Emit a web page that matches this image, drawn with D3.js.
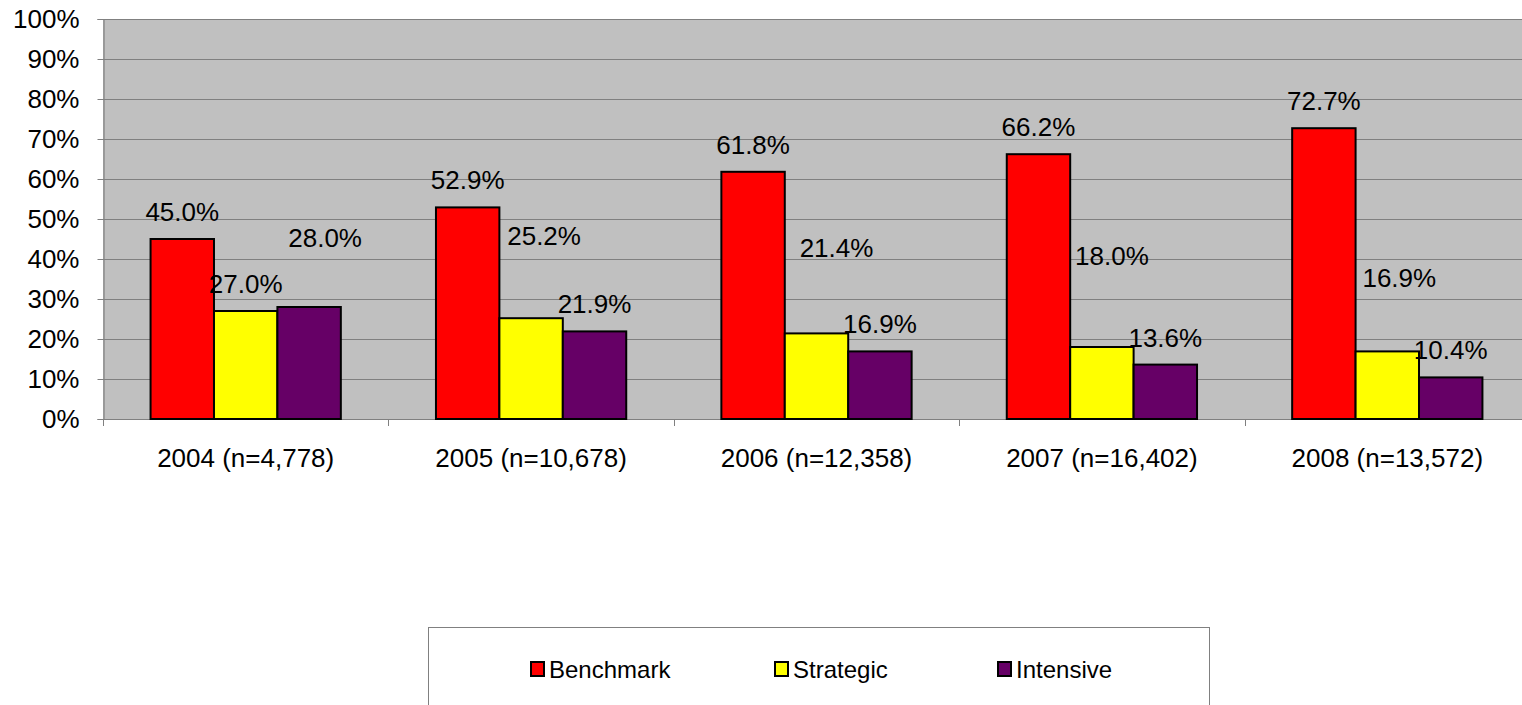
<!DOCTYPE html>
<html>
<head>
<meta charset="utf-8">
<script src="https://cdn.jsdelivr.net/npm/d3@7"></script>
<style>
  html, body { margin: 0; padding: 0; background: #ffffff; }
  svg { display: block; font-family: "Liberation Sans", Arial, sans-serif; }
</style>
</head>
<body>
<svg id="chart" width="1522" height="705"></svg>
<script>
// ---- data ----
const categories = ["2004 (n=4,778)", "2005 (n=10,678)", "2006 (n=12,358)", "2007 (n=16,402)", "2008 (n=13,572)"];
const seriesNames = ["Benchmark", "Strategic", "Intensive"];
const benchmark = [45.0, 52.9, 61.8, 66.2, 72.7];
const strategic = [27.0, 25.2, 21.4, 18.0, 16.9];
const intensive = [28.0, 21.9, 16.9, 13.6, 10.4];
const yTicks = [0, 10, 20, 30, 40, 50, 60, 70, 80, 90, 100];
const seriesColors = ["#FF0000", "#FFFF00", "#660066"];

// ---- layout ----
const W = 1522, H = 705;
const plot = { left: 103, top: 19, right: 1530, bottom: 419 };
const seriesValues = [benchmark, strategic, intensive];
// manual data-label nudges (px) matching the reference's hand-placed labels
const labelNudge = [
  [[0,0],[0,0],[0,0],[0,0],[0,0]],
  [[0,0],[13,-55],[20,-58],[10,-64],[12,-46]],
  [[16,-42],[0,0],[0,0],[0,0],[0,0]]
];

const svg = d3.select("#chart");

const x0 = d3.scaleBand().domain(categories).range([plot.left, plot.right]).paddingInner(0).paddingOuter(0);
// gap width 150%: band = 3w + 1.5w
const bw = x0.bandwidth() / 4.5;
const x1 = d3.scaleBand().domain(seriesNames).range([0.75 * bw, 0.75 * bw + 3 * bw]).padding(0);
const y = d3.scaleLinear().domain([0, 100]).range([plot.bottom, plot.top]);

// plot background
svg.append("rect")
  .attr("x", plot.left).attr("y", plot.top)
  .attr("width", plot.right - plot.left).attr("height", plot.bottom - plot.top)
  .attr("fill", "#C0C0C0");

// gridlines
svg.append("g").selectAll("line")
  .data(yTicks.filter(d => d > 0))
  .join("line")
  .attr("x1", plot.left).attr("x2", plot.right)
  .attr("y1", d => Math.round(y(d)) + 0.5).attr("y2", d => Math.round(y(d)) + 0.5)
  .attr("stroke", "#808080").attr("stroke-width", 1.2);

// y axis
const yAxis = d3.axisLeft(y).tickValues(yTicks).tickFormat(d => d + "%").tickSize(6).tickPadding(18);
const gy = svg.append("g").attr("transform", `translate(${plot.left + 0.5},0)`).call(yAxis);
gy.select(".domain").attr("stroke", "#808080").attr("stroke-width", 1.2);
gy.selectAll(".tick line").attr("stroke", "#808080");
gy.selectAll(".tick text").attr("font-size", 26).attr("fill", "#000")
  .attr("font-family", "'Liberation Sans', Arial, sans-serif");

// x axis (ticks at band boundaries)
svg.append("line")
  .attr("x1", plot.left).attr("x2", plot.right)
  .attr("y1", plot.bottom + 0.5).attr("y2", plot.bottom + 0.5)
  .attr("stroke", "#808080").attr("stroke-width", 1.2);
const boundaries = categories.map(c => x0(c)).concat([x0(categories[categories.length - 1]) + x0.bandwidth()]);
svg.append("g").selectAll("line")
  .data(boundaries)
  .join("line")
  .attr("x1", d => Math.round(d) + 0.5).attr("x2", d => Math.round(d) + 0.5)
  .attr("y1", plot.bottom).attr("y2", plot.bottom + 7)
  .attr("stroke", "#808080");
svg.append("g").selectAll("text")
  .data(categories)
  .join("text")
  .attr("x", d => x0(d) + x0.bandwidth() / 2)
  .attr("y", 467)
  .attr("text-anchor", "middle")
  .attr("font-size", 26)
  .attr("fill", "#000")
  .text(d => d);

// bars
const groups = svg.append("g").selectAll("g")
  .data(categories)
  .join("g")
  .attr("transform", d => `translate(${x0(d)},0)`);

groups.each(function(cat, ci) {
  const g = d3.select(this);
  seriesNames.forEach((s, si) => {
    const v = seriesValues[si][ci];
    g.append("rect")
      .attr("x", x1(s))
      .attr("y", y(v))
      .attr("width", x1.bandwidth())
      .attr("height", y(0) - y(v))
      .attr("fill", seriesColors[si])
      .attr("stroke", "#000")
      .attr("stroke-width", 2);
  });
});

// data labels
groups.each(function(cat, ci) {
  const g = d3.select(this);
  seriesNames.forEach((s, si) => {
    const v = seriesValues[si][ci];
    const n = labelNudge[si][ci];
    g.append("text")
      .attr("x", x1(s) + x1.bandwidth() / 2 + n[0])
      .attr("y", y(v) - 18 + n[1])
      .attr("text-anchor", "middle")
      .attr("font-size", 26)
      .attr("fill", "#000")
      .text(v.toFixed(1) + "%");
  });
});

// legend
const legend = svg.append("g");
legend.append("rect")
  .attr("x", 428.5).attr("y", 627.5)
  .attr("width", 781).attr("height", 100)
  .attr("fill", "#fff").attr("stroke", "#808080").attr("stroke-width", 1);
const legendX = [531, 775, 998];
seriesNames.forEach((s, i) => {
  legend.append("rect")
    .attr("x", legendX[i]).attr("y", 662)
    .attr("width", 13).attr("height", 14)
    .attr("fill", seriesColors[i]).attr("stroke", "#000").attr("stroke-width", 2);
  legend.append("text")
    .attr("x", legendX[i] + 18).attr("y", 678)
    .attr("font-size", 24)
    .attr("fill", "#000")
    .text(s);
});
</script>
</body>
</html>
